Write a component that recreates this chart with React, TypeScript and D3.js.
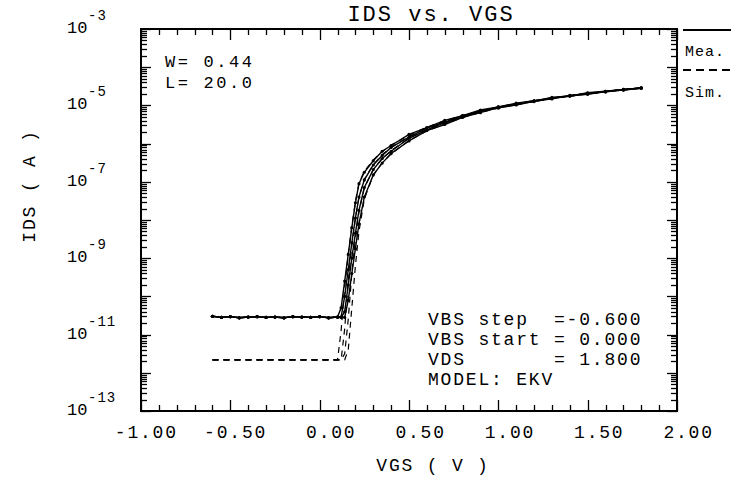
import React from "react";
import * as d3 from "d3";

// ---------- data ----------
const xTickValues = [-1.0, -0.5, 0.0, 0.5, 1.0, 1.5, 2.0];
const xTickLabels = ["-1.00", "-0.50", "0.00", "0.50", "1.00", "1.50", "2.00"];
const yLabelExps = [-3, -5, -7, -9, -11, -13];

// measured leakage floor (shared by the four measured curves)
const floorVgs = [-0.6, -0.55, -0.5, -0.45, -0.4, -0.35, -0.3, -0.25, -0.2, -0.15, -0.1, -0.05, 0.0, 0.05, 0.1];
const measFloorLog10 = [-10.52, -10.55, -10.53, -10.56, -10.54, -10.53, -10.55, -10.54, -10.56, -10.53, -10.54, -10.55, -10.53, -10.56, -10.54];

// simulated floor
const simFloorVgs = [-0.6, 0.1];
const simFloorLog10 = [-11.66, -11.66];

const riseVgs = [0.12, 0.14, 0.16, 0.18, 0.2, 0.22, 0.25, 0.3, 0.35, 0.4, 0.5, 0.6, 0.7, 0.8, 0.9, 1.0, 1.1, 1.2, 1.3, 1.4, 1.5, 1.6, 1.7, 1.8];

// measured, VBS = 0, -0.6, -1.2, -1.8
const measVbs0 = [-10.3, -9.6, -8.9, -8.2, -7.55, -7.05, -6.75, -6.45, -6.2, -6.05, -5.76, -5.58, -5.39, -5.27, -5.12, -5.04, -4.94, -4.88, -4.79, -4.75, -4.67, -4.63, -4.58, -4.54];
const measVbs1 = [-10.54, -10.0, -9.3, -8.6, -7.95, -7.4, -6.95, -6.56, -6.31, -6.1, -5.83, -5.59, -5.44, -5.27, -5.16, -5.04, -4.97, -4.88, -4.82, -4.74, -4.7, -4.63, -4.6, -4.54];
const measVbs2 = [-10.55, -10.4, -9.7, -9.0, -8.35, -7.75, -7.15, -6.68, -6.39, -6.2, -5.86, -5.64, -5.45, -5.31, -5.15, -5.07, -4.96, -4.9, -4.8, -4.76, -4.68, -4.65, -4.58, -4.55];
const measVbs3 = [-10.54, -10.55, -10.1, -9.4, -8.75, -8.1, -7.4, -6.82, -6.51, -6.26, -5.93, -5.66, -5.5, -5.31, -5.19, -5.06, -4.99, -4.89, -4.83, -4.75, -4.71, -4.64, -4.6, -4.55];

// simulated, VBS = 0, -0.6, -1.2, -1.8
const simVbs0 = [-10.9, -9.75, -8.9, -8.15, -7.52, -7.03, -6.72, -6.43, -6.21, -6.04, -5.78, -5.57, -5.4, -5.26, -5.14, -5.04, -4.95, -4.88, -4.81, -4.74, -4.68, -4.63, -4.58, -4.54];
const simVbs1 = [-11.66, -10.85, -9.6, -8.65, -7.95, -7.4, -6.93, -6.55, -6.29, -6.1, -5.81, -5.6, -5.42, -5.28, -5.15, -5.05, -4.96, -4.88, -4.81, -4.75, -4.69, -4.63, -4.59, -4.54];
const simVbs2 = [-11.66, -11.5, -10.6, -9.4, -8.5, -7.78, -7.15, -6.68, -6.39, -6.18, -5.86, -5.63, -5.45, -5.3, -5.16, -5.06, -4.97, -4.89, -4.82, -4.75, -4.69, -4.64, -4.59, -4.55];
const simVbs3 = [-11.66, -11.66, -11.4, -10.3, -9.2, -8.3, -7.45, -6.83, -6.5, -6.27, -5.92, -5.67, -5.48, -5.32, -5.18, -5.07, -4.98, -4.9, -4.82, -4.76, -4.7, -4.64, -4.59, -4.55];

const infoLines = ["VBS step  =-0.600", "VBS start = 0.000", "VDS       = 1.800", "MODEL: EKV"];
const geomLines = ["W= 0.44", "L= 20.0"];

// ---------- layout ----------
const W = 731;
const H = 478;
const left = 141;
const right = 677;
const top = 29;
const bottom = 411;
const FONT = "'Liberation Mono', 'DejaVu Sans Mono', monospace";

type Pt = { v: number; l: number };

function zipPts(vs: number[], ls: number[]): Pt[] {
  return vs.map((v, i) => ({ v, l: ls[i] }));
}

export default function App() {
  const x = d3.scaleLinear().domain([-1, 2]).range([left, right]);
  const y = d3.scaleLog().domain([1e-13, 1e-3]).range([bottom, top]);

  const line = d3
    .line<Pt>()
    .x((d) => x(d.v))
    .y((d) => y(Math.pow(10, d.l)));

  const measCurves = [measVbs0, measVbs1, measVbs2, measVbs3].map((arr) =>
    zipPts(floorVgs, measFloorLog10).concat(zipPts(riseVgs, arr))
  );
  const simCurves = [simVbs0, simVbs1, simVbs2, simVbs3].map((arr) =>
    zipPts(simFloorVgs, simFloorLog10).concat(zipPts(riseVgs, arr))
  );

  const xTicks = x.ticks(30);
  const yTicks = y.ticks(20);
  const isMajorX = (v: number) => Math.abs(v * 2 - Math.round(v * 2)) < 1e-6;
  const isDecade = (v: number) => Math.abs(Math.log10(v) - Math.round(Math.log10(v))) < 1e-6;

  return (
    <svg
      width={W}
      height={H}
      style={{ position: "absolute", left: 0, top: 0, background: "#fff" }}
      fontFamily={FONT}
    >
      <rect x={0} y={0} width={W} height={H} fill="#fff" />

      {/* title */}
      <text x={431} y={21} fontSize={22} letterSpacing={2} textAnchor="middle" fill="#000">
        IDS vs. VGS
      </text>

      {/* frame */}
      <rect x={left} y={top} width={right - left} height={bottom - top} fill="none" stroke="#000" strokeWidth={2} />

      {/* x ticks */}
      {xTicks.map((v, i) => {
        const len = isMajorX(v) ? 11 : 6;
        const xx = Math.round(x(v)) + 0.5;
        return (
          <g key={"xt" + i} stroke="#000" strokeWidth={1.3}>
            <line x1={xx} x2={xx} y1={bottom} y2={bottom - len} />
            <line x1={xx} x2={xx} y1={top} y2={top + len} />
          </g>
        );
      })}

      {/* y ticks */}
      {yTicks.map((v, i) => {
        const len = isDecade(v) ? 10 : 6;
        const yy = Math.round(y(v)) + 0.5;
        return (
          <g key={"yt" + i} stroke="#000" strokeWidth={1.3}>
            <line x1={left} x2={left + len} y1={yy} y2={yy} />
            <line x1={right} x2={right - len} y1={yy} y2={yy} />
          </g>
        );
      })}

      {/* x tick labels */}
      {xTickValues.map((v, i) => (
        <text key={"xl" + i} x={x(v) + 36.8} y={438} fontSize={18} letterSpacing={1.8} textAnchor="end" fill="#000">
          {xTickLabels[i]}
        </text>
      ))}

      {/* y tick labels */}
      {yLabelExps.map((e) => {
        const yy = y(Math.pow(10, e));
        return (
          <g key={"yl" + e}>
            <text x={67} y={yy + 4} fontSize={17} fill="#000">
              10
            </text>
            <text x={88} y={yy - 9} fontSize={14} letterSpacing={1} fill="#000">
              {String(e)}
            </text>
          </g>
        );
      })}

      {/* axis titles */}
      <text x={433} y={471} fontSize={18} letterSpacing={1.8} textAnchor="middle" fill="#000" style={{ whiteSpace: "pre" }}>
        VGS ( V )
      </text>
      <text
        transform="translate(35,186) rotate(-90)"
        fontSize={18}
        letterSpacing={1.8}
        textAnchor="middle"
        fill="#000"
        style={{ whiteSpace: "pre" }}
      >
        IDS ( A )
      </text>

      {/* curves */}
      <g fill="none" stroke="#000" strokeWidth={1.2}>
        {simCurves.map((c, i) => (
          <path key={"s" + i} d={line(c) || ""} strokeDasharray="6,5" />
        ))}
      </g>
      <g fill="none" stroke="#000" strokeWidth={1.4}>
        {measCurves.map((c, i) => (
          <path key={"m" + i} d={line(c) || ""} />
        ))}
      </g>
      <g fill="#000">
        {measCurves.map((c, i) =>
          c.map((d, j) => (
            <circle key={"mk" + i + "_" + j} cx={x(d.v)} cy={y(Math.pow(10, d.l))} r={1.6} />
          ))
        )}
      </g>

      {/* W / L */}
      {geomLines.map((t, i) => (
        <text key={"g" + i} x={165} y={67 + i * 21} fontSize={17} letterSpacing={2.6} fill="#000" style={{ whiteSpace: "pre" }}>
          {t}
        </text>
      ))}

      {/* info block */}
      {infoLines.map((t, i) => (
        <text key={"in" + i} x={428} y={325 + i * 20} fontSize={18} letterSpacing={1.8} fill="#000" style={{ whiteSpace: "pre" }}>
          {t}
        </text>
      ))}

      {/* legend */}
      <line x1={683} x2={731} y1={30} y2={30} stroke="#000" strokeWidth={2} />
      <text x={685} y={56} fontSize={15} letterSpacing={1} fill="#000">
        Mea.
      </text>
      <line x1={683} x2={731} y1={70} y2={70} stroke="#000" strokeWidth={2} strokeDasharray="8,5" />
      <text x={685} y={97} fontSize={15} letterSpacing={1} fill="#000">
        Sim.
      </text>
    </svg>
  );
}
